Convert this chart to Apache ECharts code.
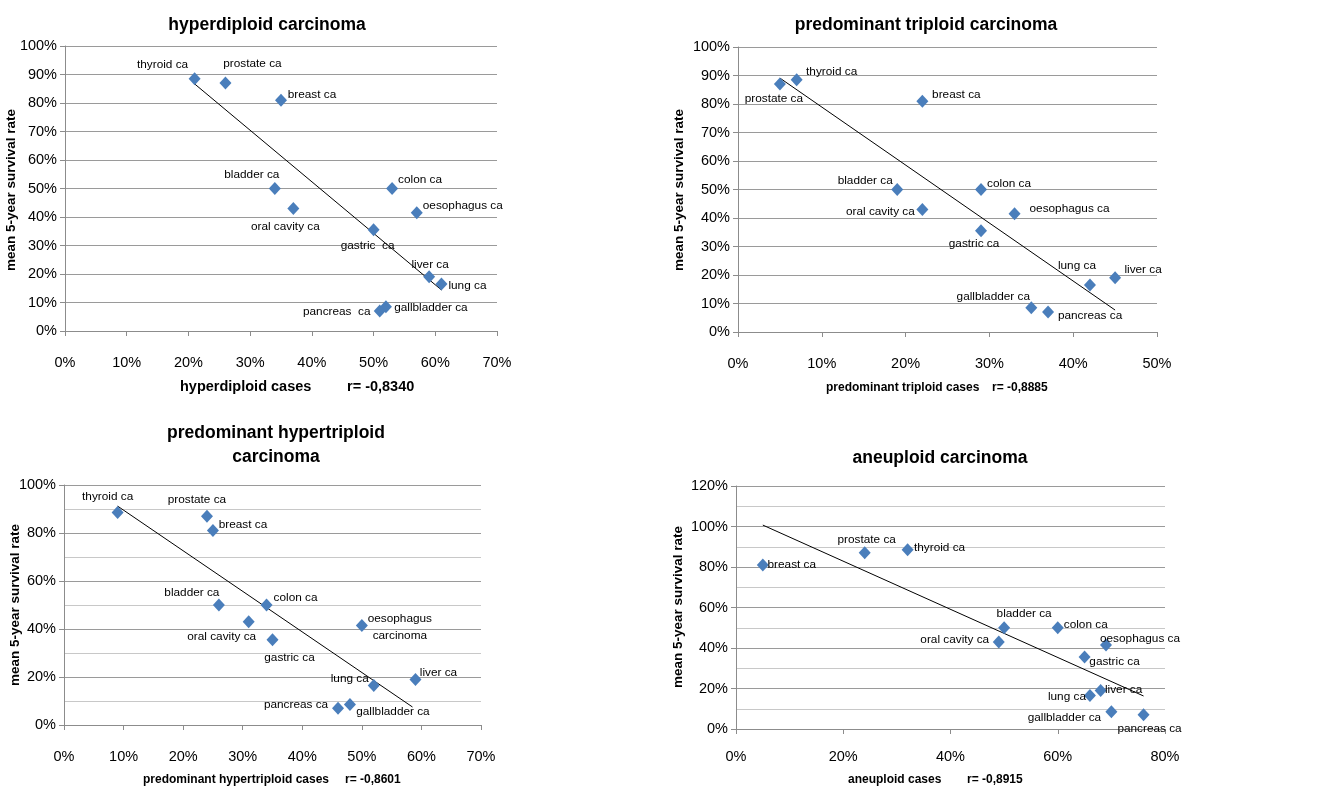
<!DOCTYPE html>
<html>
<head>
<meta charset="utf-8">
<script src="https://cdn.jsdelivr.net/npm/echarts@6/dist/echarts.min.js"></script>
<style>
html,body{margin:0;padding:0;background:#fff;}
#chart{width:1336px;height:790px;}
</style>
</head>
<body>
<div id="chart"></div>
<script>
// ---- data ----
// order: thyroid, prostate, breast, bladder, colon, oral cavity, oesophagus, gastric, liver, lung, gallbladder, pancreas
const survival = [88.5, 87, 81, 50, 50, 43, 41.5, 35.5, 19, 16.5, 8.5, 7];

const labels1 = ['thyroid ca','prostate ca','breast ca','bladder ca','colon ca','oral cavity ca','oesophagus ca','gastric  ca','liver ca','lung ca','gallbladder ca','pancreas  ca'];
const labels2 = ['thyroid ca','prostate ca','breast ca','bladder ca','colon ca','oral cavity ca','oesophagus ca','gastric ca','liver ca','lung ca','gallbladder ca','pancreas ca'];
const labels3 = ['thyroid ca','prostate ca','breast ca','bladder ca','colon ca','oral cavity ca','oesophagus\ncarcinoma','gastric ca','liver ca','lung ca','gallbladder ca','pancreas ca'];
const labels4 = ['thyroid ca','prostate ca','breast ca','bladder ca','colon ca','oral cavity ca','oesophagus ca','gastric ca','liver ca','lung ca','gallbladder ca','pancreas ca'];

const hyperdiploid  = [21, 26, 35, 34, 53, 37, 57, 50, 59, 61, 52, 51];
const triploid      = [7, 5, 22, 19, 29, 22, 33, 29, 45, 42, 35, 37];
const hypertriploid = [9, 24, 25, 26, 34, 31, 50, 35, 59, 52, 48, 46];
const aneuploid     = [32, 24, 5, 50, 60, 49, 69, 65, 68, 66, 70, 76];

// trend line endpoints (x %, y %)
const trend1 = [[21, 86.7], [61, 14.4]];
const trend2 = [[5, 89.1], [45, 7.7]];
const trend3 = [[9, 91.2], [58.5, 7.5]];
const trend4 = [[5, 100.7], [76, 16.3]];

const titles = ['hyperdiploid carcinoma', 'predominant triploid carcinoma', 'predominant hypertriploid\ncarcinoma', 'aneuploid carcinoma'];
const xNames = [['hyperdiploid cases', 'r= -0,8340'], ['predominant triploid cases', 'r= -0,8885'], ['predominant hypertriploid cases', 'r= -0,8601'], ['aneuploid cases', 'r= -0,8915']];
const yName = 'mean 5-year survival rate';

// ---- label placement (pixel offsets from marker centre) ----
const off1 = [[-32,-14],[27,-19],[31,-5],[-23,-14],[28,-9],[-8,18],[46,-7],[-6,16],[1,-12],[26,2],[45,1],[-43,1]];
const off2 = [[35,-8],[-6,15],[34,-6],[-32,-9],[28,-6],[-42,2],[55,-5],[-7,13],[28,-8],[-13,-19],[-38,-11],[42,4]];
const off3 = [[-10,-16],[-10,-16],[30,-6],[-27,-12],[29,-7],[-27,15],[38,2],[17,18],[23,-7],[-24,-7],[43,7],[-42,-3]];
const off4 = [[32,-2],[2,-13],[29,0],[20,-14],[28,-3],[-44,-2],[34,-6],[30,5],[23,-1],[-23,1],[-47,6],[6,14]];

const FONT = "'Liberation Sans', Arial, Helvetica, sans-serif";
const BLUE = '#4a7ebb';
const SYM = [12, 13];

function pts(xs, labels, offs) {
  return xs.map((x, i) => ({
    name: labels[i],
    value: [x, survival[i]],
    label: { position: [SYM[0] / 2 + offs[i][0], SYM[1] / 2 + offs[i][1]] }
  }));
}

const grids = [
  { left: 65, right: 839, top: 46, bottom: 459 },
  { left: 738, right: 179, top: 47, bottom: 458 },
  { left: 64, right: 855, top: 485, bottom: 65 },
  { left: 736, right: 171, top: 486, bottom: 61 }
];
const xCfg = [[0, 70, 10, 24], [0, 50, 10, 24], [0, 70, 10, 24], [0, 80, 20, 20]];
const yCfg = [[0, 100, 10, false], [0, 100, 10, false], [0, 100, 20, true], [0, 120, 20, true]];

const xAxes = xCfg.map((c, i) => ({
  type: 'value', gridIndex: i, min: c[0], max: c[1], interval: c[2],
  axisLine: { show: true, onZero: false, lineStyle: { color: '#8c8c8c', width: 1 } },
  axisTick: { show: true, length: 5, lineStyle: { color: '#8c8c8c' } },
  axisLabel: { formatter: '{value}%', fontSize: 14.5, color: '#000', fontFamily: FONT, margin: c[3] },
  splitLine: { show: false }
}));
const yAxes = yCfg.map((c, i) => ({
  type: 'value', gridIndex: i, min: c[0], max: c[1], interval: c[2],
  axisLine: { show: true, lineStyle: { color: '#8c8c8c', width: 1 } },
  axisTick: { show: true, length: 5, lineStyle: { color: '#8c8c8c' } },
  axisLabel: { formatter: '{value}%', fontSize: 14.5, color: '#000', fontFamily: FONT, margin: 8 },
  splitLine: { show: true, lineStyle: { color: '#9a9a9a', width: 1 } },
  minorTick: { show: false, splitNumber: 2 },
  minorSplitLine: { show: c[3], lineStyle: { color: '#c8c8c8', width: 1 } }
}));

const scatterData = [pts(hyperdiploid, labels1, off1), pts(triploid, labels2, off2), pts(hypertriploid, labels3, off3), pts(aneuploid, labels4, off4)];
const trends = [trend1, trend2, trend3, trend4];

const series = [];
scatterData.forEach((d, i) => {
  series.push({
    type: 'line', xAxisIndex: i, yAxisIndex: i, data: trends[i],
    showSymbol: false, symbol: 'none', silent: true, z: 2,
    lineStyle: { color: '#000', width: 1 }
  });
  series.push({
    type: 'scatter', xAxisIndex: i, yAxisIndex: i, data: d,
    symbol: 'diamond', symbolSize: SYM, z: 3,
    itemStyle: { color: BLUE, opacity: 1 },
    label: {
      show: true, formatter: '{b}', color: '#000', textBorderWidth: 0,
      fontSize: 11.8, fontFamily: FONT, align: 'center', verticalAlign: 'middle', lineHeight: 17
    },
    labelLayout: { hideOverlap: false }
  });
});

const titleCfg = [
  { x: 262, top: 8 }, { x: 921, top: 8 }, { x: 271, top: 416 }, { x: 935, top: 441 }
];
const title = titles.map((t, i) => ({
  text: t, left: titleCfg[i].x, top: titleCfg[i].top, textAlign: 'center',
  textStyle: { fontSize: 17.5, fontWeight: 'bold', color: '#000', fontFamily: FONT, lineHeight: 24 }
}));

const xNamePos = [
  { a: 180, b: 347, y: 387, fs: 14.5 },
  { a: 826, b: 992, y: 388, fs: 12 },
  { a: 143, b: 345, y: 780, fs: 12 },
  { a: 848, b: 967, y: 780, fs: 12 }
];
const yNamePos = [
  { x: 11, y: 190 }, { x: 679, y: 190 }, { x: 15, y: 605 }, { x: 678, y: 607 }
];
const graphic = [];
xNames.forEach((n, i) => {
  const p = xNamePos[i];
  graphic.push({ type: 'text', x: p.a, y: p.y, style: { text: n[0], fill: '#000', font: 'bold ' + p.fs + 'px ' + FONT, align: 'left', verticalAlign: 'middle' } });
  graphic.push({ type: 'text', x: p.b, y: p.y, style: { text: n[1], fill: '#000', font: 'bold ' + p.fs + 'px ' + FONT, align: 'left', verticalAlign: 'middle' } });
});
yNamePos.forEach((p) => {
  graphic.push({ type: 'text', x: p.x, y: p.y, rotation: Math.PI / 2, style: { text: yName, fill: '#000', font: 'bold 13.5px ' + FONT, align: 'center', verticalAlign: 'middle' } });
});

const chart = echarts.init(document.getElementById('chart'), null, { renderer: 'canvas' });
chart.setOption({
  animation: false,
  backgroundColor: '#fff',
  title: title,
  grid: grids,
  xAxis: xAxes,
  yAxis: yAxes,
  series: series,
  graphic: graphic
});
</script>
</body>
</html>
